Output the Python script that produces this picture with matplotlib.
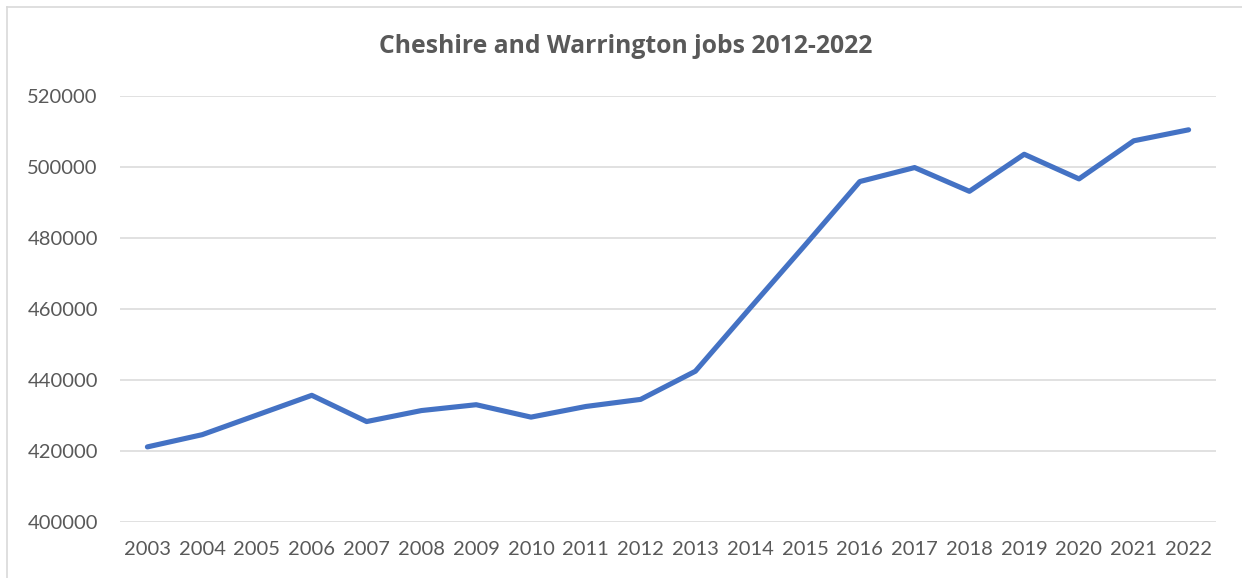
import matplotlib.pyplot as plt
from matplotlib.lines import Line2D

years = ['2003', '2004', '2005', '2006', '2007', '2008', '2009', '2010', '2011', '2012',
         '2013', '2014', '2015', '2016', '2017', '2018', '2019', '2020', '2021', '2022']
jobs = [421100, 424550, 430100, 435650, 428250, 431350, 433000, 429500, 432500, 434500,
        442450, 460300, 478000, 495950, 499900, 493200, 503650, 496700, 507450, 510550]
yticks = [400000, 420000, 440000, 460000, 480000, 500000, 520000]

plt.rcParams['font.family'] = ['Lato', 'DejaVu Sans']
grey = '#595959'

fig = plt.figure(figsize=(12.42, 5.78), dpi=100)
ax = fig.add_axes([120 / 1242, 1 - 521.7 / 578, 1096 / 1242, 425.4 / 578])

x = list(range(len(years)))
ax.plot(x, jobs, color='#4472C4', linewidth=3.7, solid_capstyle='round', solid_joinstyle='round', zorder=3)

ax.set_xlim(-0.5, len(years) - 0.5)
ax.set_ylim(400000, 520000)
ax.set_yticks(yticks)
ax.set_yticklabels([str(v) for v in yticks])
ax.set_xticks(x)
ax.set_xticklabels(years)
ax.grid(axis='y', color='#D9D9D9', linewidth=1.1)
ax.set_axisbelow(True)
for s in ax.spines.values():
    s.set_visible(False)
ax.tick_params(length=0, labelsize=14.5, colors=grey)
ax.tick_params(axis='y', pad=16)
ax.tick_params(axis='x', pad=14)

fig.text(0.5036, 1 - 46.5 / 578, 'Cheshire and Warrington jobs 2012-2022', ha='center', va='center',
         fontsize=17.8, fontweight='bold', color=grey, family=['Open Sans', 'DejaVu Sans'])

# chart frame (top and left edges visible in the crop)
fig.add_artist(Line2D([7 / 1242, 1], [1 - 7 / 578, 1 - 7 / 578], color='#D9D9D9', linewidth=1.2))
fig.add_artist(Line2D([7 / 1242, 7 / 1242], [0, 1 - 7 / 578], color='#D9D9D9', linewidth=1.2))

plt.savefig('out.png', dpi=100)
